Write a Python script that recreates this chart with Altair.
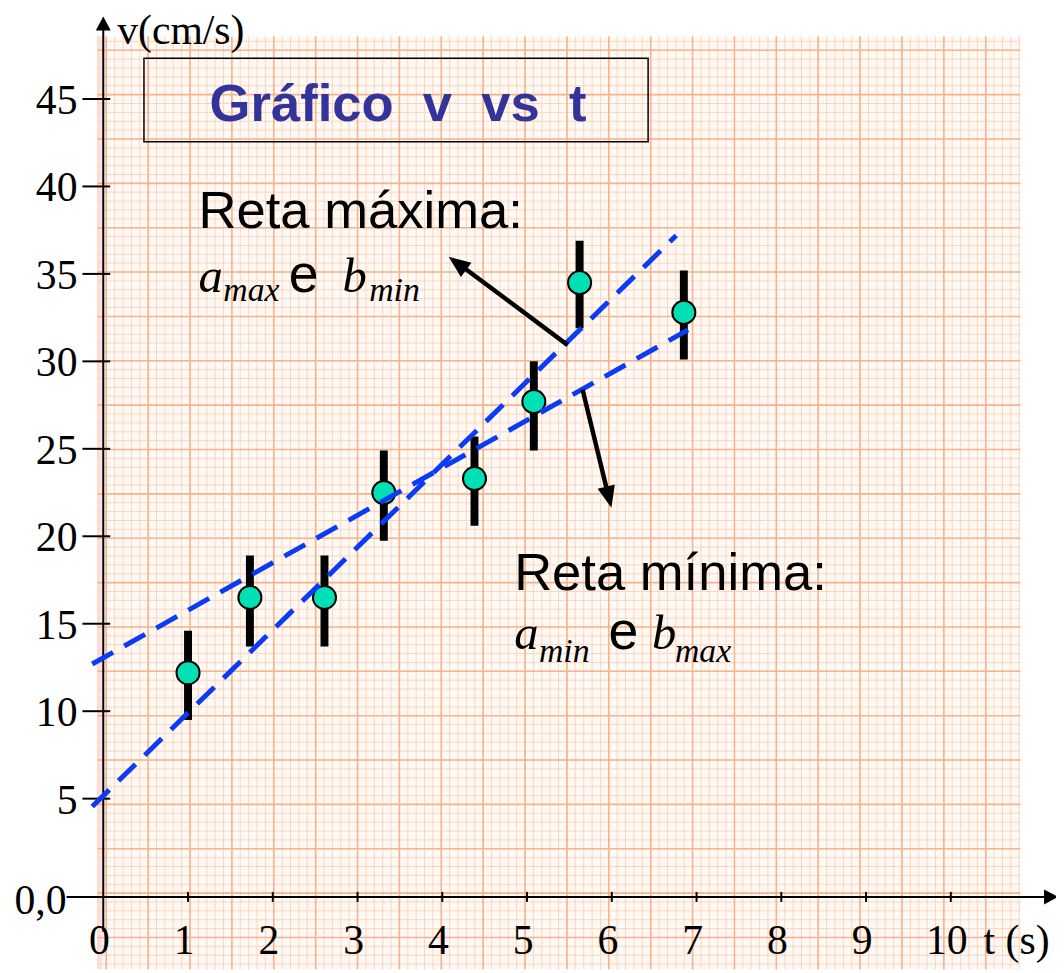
import altair as alt
import pandas as pd

# ---------------- data ----------------
t_obs = [1.0, 1.73, 2.61, 3.31, 4.38, 5.08, 5.62, 6.85]
v_obs = [12.2, 16.5, 16.5, 22.5, 23.3, 27.7, 34.5, 32.8]
v_low = [9.5, 13.7, 13.7, 19.75, 20.6, 24.9, 31.9, 30.1]
v_high = [14.6, 18.9, 18.9, 24.9, 25.7, 30.0, 36.9, 35.2]

line_max_t = [-0.13, 6.76]
line_max_v = [4.6, 37.2]
line_min_t = [-0.13, 6.90]
line_min_v = [12.7, 31.8]

x_ticks = [0, 1, 2, 3, 4, 5, 6, 7, 8, 9, 10]
x_tick_labels = ["0", "1", "2", "3", "4", "5", "6", "7", "8", "9", "10"]
y_ticks = [5, 10, 15, 20, 25, 30, 35, 40, 45]
y_tick_labels = ["5", "10", "15", "20", "25", "30", "35", "40", "45"]

title_text = "Gráfico\u00a0\u00a0v\u00a0\u00a0vs\u00a0\u00a0t"
x_title = "t (s)"
y_title = "v(cm/s)"
origin_label = "0,0"

# ---------------- layout (page pixels; the chart starts at the 8px margin) ----------------
M = 8
W, H = 1064 - M, 973 - M


def P(v):
    return v - M


xs = alt.Scale(domain=[0, 10], range=[P(104), P(958)], nice=False, zero=False)
ys = alt.Scale(domain=[0, 5, 45], range=[P(900), P(801), P(96)], nice=False, zero=False)

SERIF = "Liberation Serif"
SANS = "Liberation Sans"
one = pd.DataFrame({"k": [0]})

obs = pd.DataFrame({"t": t_obs, "v": v_obs, "lo": v_low, "hi": v_high})
lmax = pd.DataFrame({"t": line_max_t, "v": line_max_v})
lmin = pd.DataFrame({"t": line_min_t, "v": line_min_v})
xt = pd.DataFrame({"t": x_ticks, "lab": x_tick_labels})
yt = pd.DataFrame({"v": y_ticks, "lab": y_tick_labels})

X = lambda f: alt.X(f, scale=xs, axis=None)
Y = lambda f: alt.Y(f, scale=ys, axis=None)
V = lambda v: alt.value(P(v))

layers = []

# ---------------- graph paper ----------------
layers.append(alt.Chart(one).mark_rect(fill="#fff9f5").encode(
    x=V(98), x2=V(1028), y=V(33), y2=V(973)))
layers.append(alt.Chart(one).mark_rect(fill="#fbe0e4").encode(
    x=V(98), x2=V(103), y=V(33), y2=V(973)))


def vgrid(start, stop, step, color, width):
    return alt.Chart(alt.sequence(P(start), P(stop), step, as_="p")).mark_rule(
        color=color, strokeWidth=width).encode(
        x=alt.X("p:Q", scale=None, axis=None), y=V(33), y2=V(973))


def hgrid(start, stop, step, color, width):
    return alt.Chart(alt.sequence(P(start), P(stop), step, as_="p")).mark_rule(
        color=color, strokeWidth=width).encode(
        y=alt.Y("p:Q", scale=None, axis=None), x=V(98), x2=V(1028))


layers += [
    vgrid(98.56, 1028, 8.44, "#fbd6bd", 1),
    hgrid(37.96, 973, 8.94, "#fbd6bd", 1),
    vgrid(107, 1028, 42.2, "#f6b48c", 1.6),
    hgrid(46.9, 973, 44.7, "#f6b48c", 1.6),
]

# ---------------- axes ----------------
layers.append(alt.Chart(one).mark_rule(color="black", strokeWidth=2).encode(
    x=V(67), x2=V(1054), y=Y("datum0:Q")).transform_calculate(datum0="0"))
layers.append(alt.Chart(one).mark_rule(color="black", strokeWidth=2).encode(
    x=X("datum0:Q"), y=V(935), y2=V(24)).transform_calculate(datum0="0"))
arrow_small = "M0,0L-0.54,1L0.54,1Z"
layers.append(alt.Chart(one).mark_point(shape=arrow_small, filled=True, color="black",
                                        size=784, opacity=1, angle=0).encode(
    x=X("datum0:Q"), y=V(13)).transform_calculate(datum0="0"))
layers.append(alt.Chart(one).mark_point(shape=arrow_small, filled=True, color="black",
                                        size=784, opacity=1, angle=90).encode(
    x=V(1066), y=Y("datum0:Q")).transform_calculate(datum0="0"))

# ticks
layers.append(alt.Chart(yt).mark_rule(color="black", strokeWidth=2).encode(
    y=Y("v:Q"), x=V(83), x2=V(111)))
layers.append(alt.Chart(xt).transform_filter("datum.t > 0").mark_rule(
    color="black", strokeWidth=2).encode(
    x=X("t:Q"), y=V(895), y2=V(905)))

# tick labels
layers.append(alt.Chart(yt).mark_text(font=SERIF, fontSize=42, align="right",
                                      baseline="alphabetic", dy=15, color="black").encode(
    y=Y("v:Q"), x=V(78), text="lab:N"))
layers.append(alt.Chart(xt).mark_text(font=SERIF, fontSize=42, align="center",
                                      baseline="alphabetic", dx=-4, color="black").encode(
    x=X("t:Q"), y=V(958), text="lab:N"))
layers.append(alt.Chart(one).mark_text(font=SERIF, fontSize=42, align="right",
                                       baseline="alphabetic", dy=17, color="black").encode(
    y=Y("datum0:Q"), x=V(67), text=alt.value(origin_label)).transform_calculate(datum0="0"))

# axis titles
layers.append(alt.Chart(one).mark_text(font=SERIF, fontSize=42, align="left",
                                       baseline="alphabetic", color="black").encode(
    x=V(118), y=V(41), text=alt.value(y_title)))
layers.append(alt.Chart(one).mark_text(font=SERIF, fontSize=42, align="left",
                                       baseline="alphabetic", color="black").encode(
    x=V(991), y=V(958), text=alt.value(x_title)))

# ---------------- data marks ----------------
layers.append(alt.Chart(obs).mark_rule(color="black", strokeWidth=8, strokeCap="butt").encode(
    x=X("t:Q"), y=Y("lo:Q"), y2="hi:Q"))
layers.append(alt.Chart(obs).mark_circle(fill="#00e0b4", stroke="black", strokeWidth=2,
                                         size=540, opacity=1).encode(
    x=X("t:Q"), y=Y("v:Q")))
for d in (lmax, lmin):
    layers.append(alt.Chart(d).mark_line(color="#0a3cf5", strokeWidth=5,
                                         strokeDash=[24, 13], strokeCap="butt").encode(
        x=X("t:Q"), y=Y("v:Q")))

# ---------------- title box ----------------
layers.append(alt.Chart(one).mark_rect(fillOpacity=0, stroke="black", strokeWidth=1.5).encode(
    x=V(145), x2=V(653), y=V(55), y2=V(139)))
layers.append(alt.Chart(one).mark_text(font=SANS, fontSize=53, fontWeight="bold",
                                       color="#333399", align="center",
                                       baseline="alphabetic").encode(
    x=V(401), y=V(118), text=alt.value(title_text)))


# ---------------- annotations ----------------
def txt(s, x, y, font, size, style="normal"):
    return alt.Chart(one).mark_text(font=font, fontSize=size, fontStyle=style,
                                    align="left", baseline="alphabetic", color="black").encode(
        x=V(x), y=V(y), text=alt.value(s))


layers += [
    txt("Reta máxima:", 200, 226, SANS, 53),
    txt("a", 200, 290, SERIF, 49, "italic"),
    txt("max", 225, 300, SERIF, 34, "italic"),
    txt("e", 291, 290, SANS, 54),
    txt("b", 345, 290, SERIF, 49, "italic"),
    txt("min", 372, 300, SERIF, 34, "italic"),
    txt("Reta mínima:", 518, 591, SANS, 53),
    txt("a", 518, 650, SERIF, 49, "italic"),
    txt("min", 543, 663, SERIF, 34, "italic"),
    txt("e", 613, 650, SANS, 54),
    txt("b", 657, 650, SERIF, 49, "italic"),
    txt("max", 680, 663, SERIF, 34, "italic"),
]

# arrows
arrow_big = "M0,0L-0.65,1.6L0.65,1.6Z"
layers.append(alt.Chart(one).mark_rule(color="black", strokeWidth=4.5).encode(
    x=V(572), y=V(344), x2=V(462), y2=V(262)))
layers.append(alt.Chart(one).mark_point(shape=arrow_big, filled=True, color="black",
                                        size=756, opacity=1, angle=306.6).encode(
    x=V(452), y=V(255)))
layers.append(alt.Chart(one).mark_rule(color="black", strokeWidth=4.5).encode(
    x=V(587), y=V(389), x2=V(613), y2=V(496)))
layers.append(alt.Chart(one).mark_point(shape=arrow_big, filled=True, color="black",
                                        size=756, opacity=1, angle=166.3).encode(
    x=V(616), y=V(508)))

chart = alt.layer(*layers).properties(
    width=W, height=H, padding=0, autosize="none", background="white"
).configure_view(stroke=None)

chart.save("out.html", embed_options={"renderer": "svg", "actions": False})
